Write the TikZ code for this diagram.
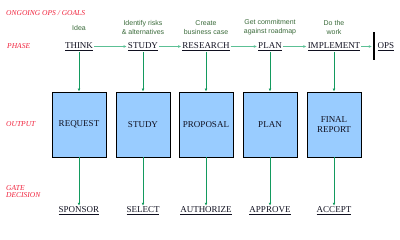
\documentclass[tikz,border=0pt]{standalone}
\usepackage{fontspec}
\setmainfont{Liberation Serif}
\newfontfamily\serf{Liberation Serif}
\newfontfamily\descfont{Liberation Sans}
\usetikzlibrary{arrows.meta}
\definecolor{lblred}{HTML}{F0203A}
\definecolor{descgreen}{HTML}{3A6A3A}
\definecolor{arrgreen}{HTML}{5CC095}
\definecolor{linegreen}{HTML}{139A5E}
\definecolor{boxblue}{HTML}{99CCFF}
\definecolor{wordblack}{HTML}{101020}
\tikzset{
  redlbl/.style={text=lblred, font=\serf\itshape\fontsize{7.5}{8}\selectfont, anchor=west, inner sep=0pt, align=left},
  phaseword/.style={text=wordblack, font=\serf\fontsize{9}{9}\selectfont, inner sep=1pt},
  gateword/.style={text=wordblack, font=\serf\fontsize{9}{9}\selectfont, inner sep=1pt},
  desc/.style={text=descgreen, font=\descfont\fontsize{7}{9}\selectfont, align=center, inner sep=0pt},
  outbox/.style={draw=black, line width=0.9pt, fill=boxblue, minimum width=54pt, minimum height=65pt, inner sep=1pt, align=center, text=wordblack, font=\serf\fontsize{9}{10.5}\selectfont},
  phasearrow/.style={draw=arrgreen, line width=0.9pt, -{Latex[length=3.2pt,width=2.8pt]}},
  vline/.style={draw=linegreen, line width=0.9pt, -{Latex[length=3pt,width=2.8pt]}}
}
\begin{document}
\begin{tikzpicture}[x=1pt,y=-1pt]
\useasboundingbox (0,0) rectangle (400,239);
% left labels
\node[redlbl] (lgoals) at (6,13) {ONGOING OPS / GOALS};
\node[redlbl] (lphase) at (7,46) {PHASE};
\node[redlbl] (loutput) at (6,124) {OUTPUT};
\node[redlbl] (lgate) at (6,192) {GATE\\[-1pt]DECISION};
% descriptions
\node[desc] (d1) at (79,28) {Idea};
\node[desc] (d2) at (143,27.5) {Identify risks\\\& alternatives};
\node[desc] (d3) at (206,27.5) {Create\\business case};
\node[desc] (d4) at (270,27.5) {Get commitment\\against roadmap};
\node[desc] (d5) at (334,27.5) {Do the\\work};
% phase words
\node[phaseword] (think) at (79,46.5) {\underline{THINK}};
\node[phaseword] (study) at (143,46.5) {\underline{STUDY}};
\node[phaseword] (research) at (206,46.5) {\underline{RESEARCH}};
\node[phaseword] (plan) at (270,46.5) {\underline{PLAN}};
\node[phaseword] (implement) at (334,46.5) {\underline{IMPLEMENT}};
\node[phaseword] (ops) at (386,46.5) {\underline{OPS}};
\coordinate (bartop) at (373.5,32);
\coordinate (barbot) at (373.5,60);
\draw[line width=2pt] (bartop) -- (barbot);
\coordinate (barmid) at (372,46.5);
% phase arrows
\draw[phasearrow] (think) -- (study);
\draw[phasearrow] (study) -- (research);
\draw[phasearrow] (research) -- (plan);
\draw[phasearrow] (plan) -- (implement);
\draw[phasearrow] (implement) -- (barmid);
% output boxes
\node[outbox] (request) at (79,124.5) {REQUEST};
\node[outbox] (studyb) at (143,124.5) {STUDY};
\node[outbox] (proposal) at (206,124.5) {PROPOSAL};
\node[outbox] (planb) at (270,124.5) {PLAN};
\node[outbox] (final) at (334,124.5) {FINAL\\REPORT};
% gate words
\node[gateword] (sponsor) at (79,211) {\underline{SPONSOR}};
\node[gateword] (select) at (143,211) {\underline{SELECT}};
\node[gateword] (authorize) at (206,211) {\underline{AUTHORIZE}};
\node[gateword] (approve) at (270,211) {\underline{APPROVE}};
\node[gateword] (accept) at (334,211) {\underline{ACCEPT}};
% vertical connectors
\draw[vline] (think) -- (request);
\draw[vline] (study) -- (studyb);
\draw[vline] (research) -- (proposal);
\draw[vline] (plan) -- (planb);
\draw[vline] (implement) -- (final);
\draw[vline] (request) -- (sponsor);
\draw[vline] (studyb) -- (select);
\draw[vline] (proposal) -- (authorize);
\draw[vline] (planb) -- (approve);
\draw[vline] (final) -- (accept);
\end{tikzpicture}
\end{document}
